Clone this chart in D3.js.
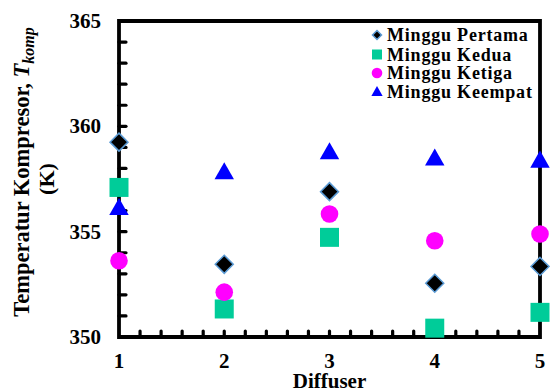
<!DOCTYPE html>
<html><head><meta charset="utf-8">
<script src="https://cdn.jsdelivr.net/npm/d3@7"></script>
<style>body{margin:0;background:#fff}svg{display:block}</style>
</head><body>
<svg id="c" width="550" height="389"></svg>
<script>
const diffusers = [1, 2, 3, 4, 5];
const pertama = [359.25, 353.45, 356.9, 352.55, 353.35];
const kedua = [357.1, 351.33, 354.73, 350.42, 351.17];
const ketiga = [353.62, 352.13, 355.84, 354.57, 354.89];
const keempat = [356.15, 357.85, 358.8, 358.5, 358.4];
const yTicks = [350, 355, 360, 365];
const seriesNames = ["Minggu Pertama", "Minggu Kedua", "Minggu Ketiga", "Minggu Keempat"];

const FONT = "Liberation Serif";
const svg = d3.select("#c");
const L = 119, R = 540, T = 21, B = 337;
const x = d3.scaleLinear().domain([1, 5]).range([L, R]);
const y = d3.scaleLinear().domain([350, 365]).range([B, T]);

const yMinor = d3.range(351, 365, 1);
const xMinor = d3.range(1, 20).map(i => 1 + i * 0.2);
const g = svg.append("g");
g.selectAll(".ytk").data(yMinor).enter().append("line")
  .attr("x1", L).attr("x2", L + 7).attr("y1", d => y(d)).attr("y2", d => y(d))
  .attr("stroke", "#000").attr("stroke-width", 3.2).attr("stroke-linecap", "round");
g.selectAll(".xtk").data(xMinor).enter().append("line")
  .attr("y1", B).attr("y2", B - 6).attr("x1", d => x(d)).attr("x2", d => x(d))
  .attr("stroke", "#000").attr("stroke-width", 3.2).attr("stroke-linecap", "round");

g.append("path").attr("d", `M${L},${B}V${T}H${R}V${B}H${L}Z`)
  .attr("fill", "none").attr("stroke", "#000").attr("stroke-width", 3.8).attr("stroke-linejoin", "miter");

function txt(sel) { return sel.append("text").attr("font-family", FONT).attr("font-weight", "bold").attr("fill", "#000"); }

yTicks.forEach(d => {
  txt(svg).attr("x", 101).attr("y", y(d) + 7).attr("text-anchor", "end").attr("font-size", 21).text(d);
});
diffusers.forEach(d => {
  txt(svg).attr("x", x(d)).attr("y", 368).attr("text-anchor", "middle").attr("font-size", 21).text(d);
});

txt(svg).attr("x", (L + R) / 2).attr("y", 388).attr("text-anchor", "middle")
  .attr("font-size", 21).text("Diffuser");
const yt = txt(svg).attr("transform", "translate(29,172) rotate(-90)")
  .attr("text-anchor", "middle").attr("font-size", 22.5);
yt.append("tspan").text("Temperatur Kompresor, ");
yt.append("tspan").attr("font-style", "italic").text("T");
yt.append("tspan").attr("font-style", "italic").attr("font-size", 16).attr("dy", 5).text("komp");
txt(svg).attr("transform", "translate(54,179) rotate(-90)")
  .attr("text-anchor", "middle").attr("font-size", 22).text("(K)");

const sym = {
  diamond: (s) => `M0,${-s}L${s},0L0,${s}L${-s},0Z`,
  square: (s) => `M${-s},${-s}H${s}V${s}H${-s}Z`,
  tri: (s) => `M0,${-s * 1.05}L${s * 1.08},${s * 0.85}H${-s * 1.08}Z`
};
const series = [
  { name: seriesNames[0], vals: pertama, type: "diamond", fill: "#000", stroke: "#5B9BD5", size: 9, lsize: 4.5 },
  { name: seriesNames[1], vals: kedua, type: "square", fill: "#00CC99", stroke: "none", size: 9.5, lsize: 5 },
  { name: seriesNames[2], vals: ketiga, type: "circle", fill: "#FF00FF", stroke: "none", size: 8.8, lsize: 5.3 },
  { name: seriesNames[3], vals: keempat, type: "tri", fill: "#0000FF", stroke: "none", size: 9, lsize: 5.2 }
];
function drawMark(sel, s, size) {
  if (s.type === "circle") {
    sel.append("circle").attr("r", size).attr("fill", s.fill);
  } else {
    sel.append("path").attr("d", sym[s.type](size)).attr("fill", s.fill)
      .attr("stroke", s.stroke).attr("stroke-width", s.stroke === "none" ? 0 : 1.5);
  }
}
series.forEach(s => {
  s.vals.forEach((v, i) => {
    const m = svg.append("g").attr("transform", `translate(${x(diffusers[i])},${y(v)})`);
    drawMark(m, s, s.size);
  });
});

const legY = [35, 54.5, 73, 91.5];
series.forEach((s, i) => {
  const lg = svg.append("g").attr("transform", `translate(377,${legY[i]})`);
  drawMark(lg, s, s.lsize);
  txt(svg).attr("x", 387).attr("y", legY[i] + 6).attr("font-size", 18)
    .attr("letter-spacing", 0.8).text(s.name);
});
</script>
</body></html>
